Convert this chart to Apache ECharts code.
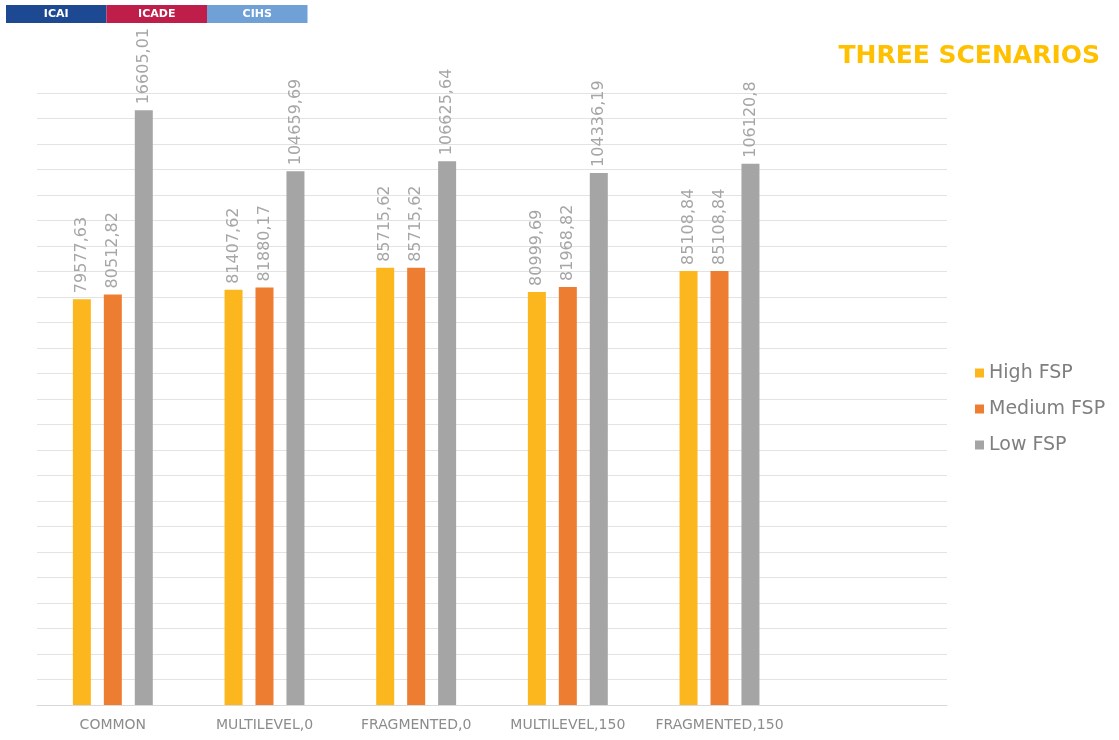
<!DOCTYPE html>
<html>
<head>
<meta charset="utf-8">
<script src="https://cdn.jsdelivr.net/npm/echarts@6/dist/echarts.min.js"></script>
<style>
  html, body { margin: 0; padding: 0; background: #ffffff; }
  #chart { width: 1119px; height: 740px; }
</style>
</head>
<body>
<div id="chart"></div>
<script>
const categories = ['COMMON', 'MULTILEVEL,0', 'FRAGMENTED,0', 'MULTILEVEL,150', 'FRAGMENTED,150'];
const highFSP = [79577.63, 81407.62, 85715.62, 80999.69, 85108.84];
const mediumFSP = [80512.82, 81880.17, 85715.62, 81968.82, 85108.84];
const lowFSP = [116605.01, 104659.69, 106625.64, 104336.19, 106120.8];
// data label texts exactly as printed on the reference chart
const highLabels = ['79577,63', '81407,62', '85715,62', '80999,69', '85108,84'];
const mediumLabels = ['80512,82', '81880,17', '85715,62', '81968,82', '85108,84'];
const lowLabels = ['16605,01', '104659,69', '106625,64', '104336,19', '106120,8'];
const seriesNames = ['High FSP', 'Medium FSP', 'Low FSP'];
const seriesColors = ['#fdb71e', '#ed7d31', '#a5a5a5'];
const logoTexts = ['ICAI', 'ICADE', 'CIHS'];
const logoColors = ['#1d4892', '#c01e4a', '#6fa1d7'];

const chart = echarts.init(document.getElementById('chart'), null, { renderer: 'canvas' });

// Excel chart had an extra empty category slot on the right
const axisCats = categories.concat(['']);

function makeSeries(name, data, labels, color) {
  return {
    name: name,
    type: 'bar',
    data: data,
    barWidth: 18,
    barGap: '72%',
    itemStyle: { color: color },
    label: {
      show: true,
      position: 'top',
      rotate: 90,
      align: 'left',
      verticalAlign: 'middle',
      distance: 6,
      color: '#a6a6a6',
      fontFamily: 'DejaVu Sans',
      fontSize: 16,
      formatter: p => labels[p.dataIndex]
    }
  };
}

const logoGraphics = [];
logoTexts.forEach((t, i) => {
  logoGraphics.push({
    type: 'rect', z: 101,
    shape: { x: 6 + i * 100.5, y: 5, width: 100.5, height: 18 },
    style: { fill: logoColors[i] }
  });
  logoGraphics.push({
    type: 'text', z: 102,
    x: 6 + i * 100.5 + 50.25, y: 14,
    style: { text: t, fill: '#ffffff', font: 'bold 11px "DejaVu Sans"', align: 'center', verticalAlign: 'middle' }
  });
});

const option = {
  backgroundColor: '#ffffff',
  animation: false,
  title: {
    text: 'THREE SCENARIOS',
    right: 14,
    top: 39,
    textStyle: { color: '#ffc000', fontFamily: 'DejaVu Sans', fontWeight: 'bold', fontSize: 25 }
  },
  legend: {
    orient: 'vertical',
    left: 975,
    top: 362,
    padding: 0,
    itemWidth: 9,
    itemHeight: 9,
    itemGap: 14,
    icon: 'rect',
    data: seriesNames,
    textStyle: { color: '#7f7f7f', fontFamily: 'DejaVu Sans', fontSize: 19, lineHeight: 22 }
  },
  grid: { left: 37, right: 172, top: 93, bottom: 35, containLabel: false },
  xAxis: {
    type: 'category',
    data: axisCats,
    axisLine: { show: true, lineStyle: { color: '#d9d9d9', width: 1 } },
    axisTick: { show: false },
    axisLabel: { color: '#8c8c8c', fontFamily: 'DejaVu Sans', fontSize: 14, margin: 13, interval: 0 }
  },
  yAxis: {
    type: 'value',
    min: 0,
    max: 120000,
    interval: 5000,
    axisLabel: { show: false },
    axisLine: { show: false },
    axisTick: { show: false },
    splitLine: { show: true, lineStyle: { color: '#e3e3e3', width: 1 } }
  },
  graphic: logoGraphics,
  series: [
    makeSeries(seriesNames[0], highFSP, highLabels, seriesColors[0]),
    makeSeries(seriesNames[1], mediumFSP, mediumLabels, seriesColors[1]),
    makeSeries(seriesNames[2], lowFSP, lowLabels, seriesColors[2])
  ]
};

chart.setOption(option);
</script>
</body>
</html>
